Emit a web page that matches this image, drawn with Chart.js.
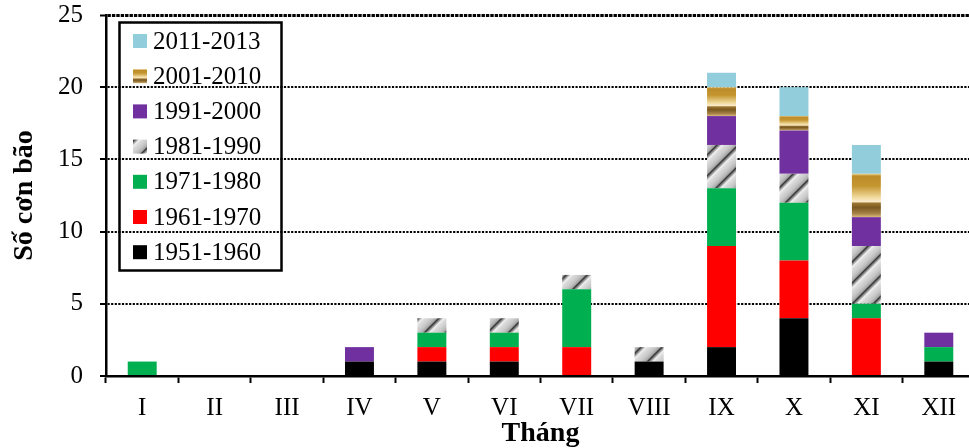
<!DOCTYPE html>
<html><head><meta charset="utf-8">
<script src="https://cdn.jsdelivr.net/npm/chart.js@4/dist/chart.umd.min.js"></script>
<style>html,body{margin:0;padding:0;overflow:hidden;background:#fff;width:969px;height:448px}canvas{display:block}</style>
</head><body><canvas id="c" width="975" height="448"></canvas>
<script>
// ---- data ----
const categories = ['I','II','III','IV','V','VI','VII','VIII','IX','X','XI','XII'];
const seriesLabels = ['1951-1960','1961-1970','1971-1980','1981-1990','1991-2000','2001-2010','2011-2013'];
const s1951 = [0,0,0,1,1,1,0,1,2,4,0,1];
const s1961 = [0,0,0,0,1,1,2,0,7,4,4,0];
const s1971 = [1,0,0,0,1,1,4,0,4,4,1,1];
const s1981 = [0,0,0,0,1,1,1,1,3,2,4,0];
const s1991 = [0,0,0,1,0,0,0,0,2,3,2,1];
const s2001 = [0,0,0,0,0,0,0,0,2,1,3,0];
const s2011 = [0,0,0,0,0,0,0,0,1,2,2,0];
const yTicks = [0,5,10,15,20,25];

const canvas = document.getElementById('c');
const mainCtx = canvas.getContext('2d');
const FONT = '"Liberation Serif", "Times New Roman", serif';

// hatched gray pattern (1981-1990)
function makeHatch(){
  const P = 21;
  const c = document.createElement('canvas'); c.width = P; c.height = P;
  const g = c.getContext('2d');
  const img = g.createImageData(P, P);
  const pts = [[0,55],[0.07,110],[0.24,238],[0.4,218],[0.7,198],[0.9,168],[1,55]];
  function f(t){
    for (let i=1;i<pts.length;i++){
      if (t <= pts[i][0]){ const a=pts[i-1], b=pts[i]; return a[1] + (b[1]-a[1])*(t-a[0])/(b[0]-a[0]); }
    }
    return pts[pts.length-1][1];
  }
  for (let y=0;y<P;y++) for (let x=0;x<P;x++){
    const v = Math.round(f(((x+y)%P)/P));
    const o = (y*P+x)*4;
    img.data[o]=v; img.data[o+1]=v; img.data[o+2]=v; img.data[o+3]=255;
  }
  g.putImageData(img,0,0);
  return mainCtx.createPattern(c,'repeat');
}
const hatch = makeHatch();

const goldStops = [[0,'#F0D898'],[0.05,'#BC8C28'],[0.28,'#C49630'],[0.55,'#F2DCA0'],[0.64,'#FAEACB'],[0.68,'#9A7430'],[0.78,'#7A5820'],[0.92,'#A88448'],[1,'#D8BC80']];
function goldGradient(ctx, y0, y1){
  const g = ctx.createLinearGradient(0,y0,0,y1);
  goldStops.forEach(s=>g.addColorStop(s[0],s[1]));
  return g;
}
function goldBg(context){
  const chart = context.chart;
  const ys = chart.scales && chart.scales.y;
  const i = context.dataIndex, di = context.datasetIndex;
  if (!ys || !chart.chartArea || i === undefined) return '#C8A040';
  let base = 0;
  for (let k=0;k<di;k++) base += chart.data.datasets[k].data[i] || 0;
  const v = chart.data.datasets[di].data[i] || 0;
  if (!v) return '#C8A040';
  const yTop = ys.getPixelForValue(base+v), yBot = ys.getPixelForValue(base);
  if (!isFinite(yTop) || !isFinite(yBot) || yTop === yBot) return '#C8A040';
  return goldGradient(chart.ctx, yTop, yBot);
}

const fills = ['#000000','#FF0000','#00B050',hatch,'#7030A0',goldBg,'#92CDDC'];
const values = [s1951,s1961,s1971,s1981,s1991,s2001,s2011];

const datasets = seriesLabels.map((lab,k)=>({
  label: lab,
  data: values[k],
  backgroundColor: fills[k],
  borderWidth: 0,
  legendKind: k===5 ? 'gold' : (k===3 ? 'hatch' : 'solid'),
  legendColor: typeof fills[k] === 'string' ? fills[k] : null
}));

const boxLegend = {
  id: 'boxLegend',
  afterDraw(chart){
    const c = chart.ctx;
    c.save();
    c.lineWidth = 2.5; c.strokeStyle = '#000';
    c.strokeRect(119.5, 22.5, 162, 248);
    const ds = chart.data.datasets;
    for (let k=0;k<ds.length;k++){
      const d = ds[ds.length-1-k];
      const cy = 41 + k*35.2;
      const x0 = 133, y0 = cy-7, s = 14;
      if (d.legendKind === 'gold') c.fillStyle = goldGradient(c, y0, y0+s);
      else if (d.legendKind === 'hatch') c.fillStyle = hatch;
      else c.fillStyle = d.legendColor;
      c.fillRect(x0, y0, s, s);
      c.fillStyle = '#000';
      c.font = '25px ' + FONT;
      c.textBaseline = 'middle';
      c.textAlign = 'left';
      c.fillText(d.label, 153, cy+1);
    }
    c.restore();
  }
};

new Chart(canvas, {
  type: 'bar',
  data: { labels: categories, datasets },
  options: {
    responsive: false,
    animation: false,
    devicePixelRatio: 1,
    layout: { padding: { top: 15, right: 0, bottom: 0, left: 0 } },
    plugins: { legend: { display: false }, tooltip: { enabled: false } },
    datasets: { bar: { barPercentage: 0.4, categoryPercentage: 1.0 } },
    scales: {
      x: {
        stacked: true,
        offset: true,
        grid: { offset: true, drawOnChartArea: false, drawTicks: true, tickLength: 7, tickWidth: 2, color: '#000', tickColor: '#000' },
        border: { display: true, color: '#000', width: 2.5 },
        ticks: { color: '#000', font: { family: FONT, size: 25 }, padding: 10, maxRotation: 0, autoSkip: false },
        title: { display: true, text: 'Tháng', color: '#000', font: { family: FONT, size: 28, weight: 'bold', lineHeight: 1 }, padding: { top: 0, bottom: 0 } },
        afterFit(s){ s.height = 72; s.paddingLeft = 0; s.paddingRight = 0; s.paddingTop = 0; s.paddingBottom = 0; }
      },
      y: {
        stacked: true,
        min: yTicks[0], max: yTicks[yTicks.length-1],
        afterBuildTicks(s){ s.ticks = yTicks.map(v=>({value:v})); },
        grid: {
          color: (c)=> (c.tick && c.tick.value === 0) ? 'rgba(0,0,0,0)' : '#000',
          lineWidth: (c)=> (c.tick && c.tick.value === 25) ? 3 : 2,
          drawTicks: true, tickLength: 6, tickWidth: 2, tickColor: '#000', tickBorderDash: []
        },
        border: { display: true, color: '#000', width: 2.5,
          dash: (c)=> (c.tick && c.tick.value === 25) ? [3.4,1] : [2.2,1.4] },
        ticks: { color: '#000', font: { family: FONT, size: 25 }, padding: 17 },
        title: { display: true, text: 'Số cơn bão', color: '#000', font: { family: FONT, size: 28, weight: 'bold', lineHeight: 1 }, padding: { top: 11, bottom: 0 } },
        afterFit(s){ s.width = 106; s.paddingTop = 0; s.paddingBottom = 0; s.paddingLeft = 0; s.paddingRight = 0; }
      }
    }
  },
  plugins: [boxLegend]
});
</script>
</body></html>
